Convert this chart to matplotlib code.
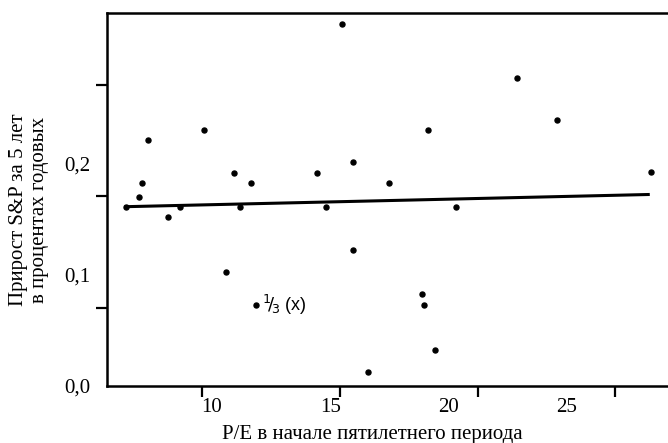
import matplotlib
matplotlib.use("Agg")
import matplotlib.pyplot as plt

# P/E at the start of the 5-year period vs. S&P annual growth
pe = [6.37, 6.92, 7.04, 7.30, 8.14, 8.65, 9.66, 10.59, 10.93, 11.18, 11.65,
      11.86, 14.44, 14.82, 15.49, 15.96, 15.96, 17.48, 16.59, 18.87, 18.96,
      19.13, 19.42, 20.31, 22.89, 24.58, 28.55]
growth = [0.161, 0.170, 0.182, 0.221, 0.152, 0.161, 0.230, 0.102, 0.191,
          0.161, 0.182, 0.073, 0.191, 0.161, 0.325, 0.201, 0.122, 0.182,
          0.013, 0.083, 0.073, 0.230, 0.032, 0.161, 0.277, 0.239, 0.192]

# regression line end points
fit_x = [6.3, 28.5]
fit_y = [0.161, 0.172]

xtick_labels = ["10", "15", "20", "25"]
xtick_pos = [10, 15, 20, 25]
ytick_labels = ["0,0", "0,1", "0,2"]
ytick_pos = [0.0, 0.1, 0.2]
# tick marks in the scan sit apart from the labels
xmarks = [9.58, 15.4, 21.24, 27.03]
ymarks = [0.070, 0.171, 0.270]

serif = "Liberation Serif"
fs = 15

fig = plt.figure(figsize=(6.68, 4.43), dpi=100)
ax = fig.add_axes([0.160, 0.1287, 0.840, 0.842])

ax.plot(fit_x, fit_y, color="black", lw=2.2, solid_capstyle="butt")
ax.plot(pe, growth, "o", color="black", markersize=3.6)

ax.annotate(r"$^{1}\!/\!_{3}$ (x)", xy=(pe[11], growth[11]), xytext=(4, 0),
            textcoords="offset points", va="center", ha="left",
            fontsize=13, family="Liberation Sans")

ax.set_xlim(5.56, 29.27)
ax.set_ylim(0.0, 0.335)

ax.set_xticks(xtick_pos)
ax.set_xticklabels(xtick_labels, family=serif, fontsize=fs)
ax.set_yticks(ytick_pos)
ax.set_yticklabels(ytick_labels, family=serif, fontsize=fs)
ax.tick_params(axis="both", which="major", length=0)
ax.tick_params(axis="x", which="major", pad=9)
ax.tick_params(axis="y", which="major", pad=12)

ax.set_xticks(xmarks, minor=True)
ax.set_yticks(ymarks, minor=True)
ax.tick_params(axis="both", which="minor", length=8, width=1.6,
               direction="out", color="black")

for side in ["left", "bottom", "top"]:
    ax.spines[side].set_linewidth(1.8)
ax.spines["right"].set_visible(False)

fig.text(0.558, 1 - 435 / 443, "P/E в начале пятилетнего периода",
         ha="center", va="center", family=serif, fontsize=fs)
fig.text(29 / 668, 1 - 210 / 443,
         "Прирост S&P за 5 лет\nв процентах годовых",
         ha="center", va="center", rotation=90, family=serif, fontsize=fs,
         linespacing=1.2, multialignment="center")

fig.savefig("out.png", dpi=100)
